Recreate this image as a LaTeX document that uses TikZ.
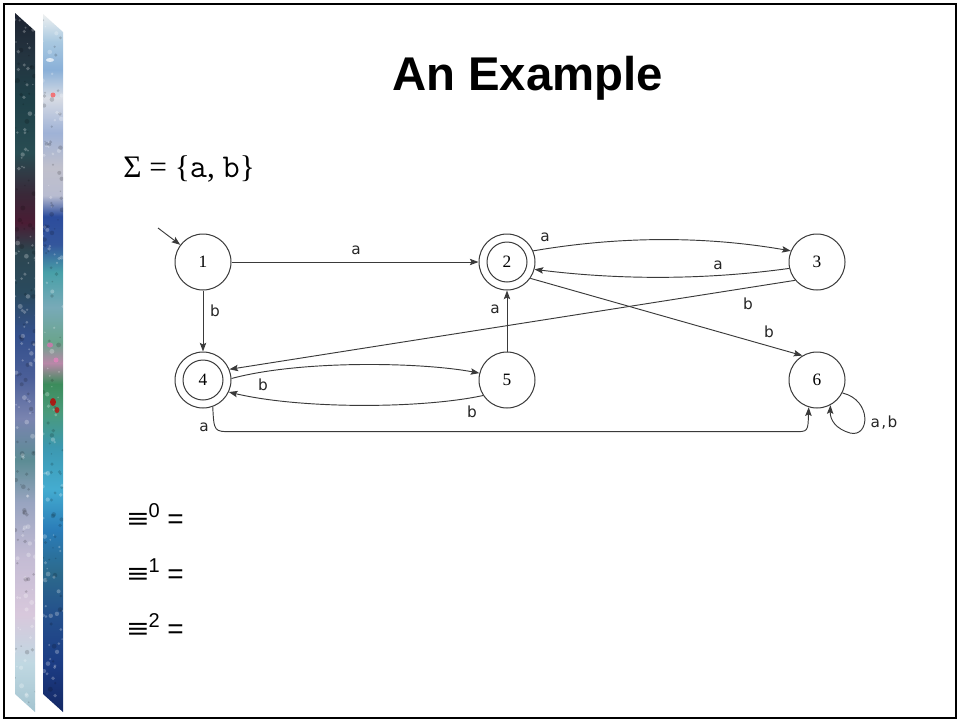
\documentclass[tikz,border=0pt]{standalone}
\usepackage{fontspec}
\usepackage{graphicx}
\usetikzlibrary{arrows.meta}
\setmainfont{Liberation Sans}
\newfontfamily\serifR{Liberation Serif}
\newfontfamily\lblfont{DejaVu Sans}

\definecolor{linegray}{HTML}{3A3A3A}
% colours of the two patterned side bands (top to bottom)
\definecolor{la}{HTML}{1C2230}\definecolor{lb}{HTML}{243440}\definecolor{lc}{HTML}{1F4048}
\definecolor{ld}{HTML}{284C52}\definecolor{le}{HTML}{3A2838}\definecolor{lf}{HTML}{4A1C34}
\definecolor{lg}{HTML}{2C4650}\definecolor{lh}{HTML}{2A4A5E}\definecolor{li}{HTML}{34508C}
\definecolor{lj}{HTML}{4A5E98}\definecolor{lk}{HTML}{7A84B0}\definecolor{ll}{HTML}{5C8C94}
\definecolor{lm}{HTML}{98A4C0}\definecolor{ln}{HTML}{C4BCD4}\definecolor{lo}{HTML}{D8C8DC}
\definecolor{lp}{HTML}{C0D8E2}\definecolor{lq}{HTML}{A4C4D0}
\definecolor{ra}{HTML}{EEF0F0}\definecolor{rb}{HTML}{A8C8E0}\definecolor{rc}{HTML}{8AB0D8}
\definecolor{rd}{HTML}{D8DCE4}\definecolor{re}{HTML}{9FB2D6}\definecolor{rf}{HTML}{C0C0CC}
\definecolor{rg}{HTML}{B8BCD0}\definecolor{rh}{HTML}{2C4C9C}\definecolor{ri}{HTML}{34569C}
\definecolor{rj}{HTML}{48A0A8}\definecolor{rk}{HTML}{78AAB8}\definecolor{rl}{HTML}{6AA48C}
\definecolor{rm}{HTML}{B888A8}\definecolor{rn}{HTML}{3C8C5C}\definecolor{ro}{HTML}{4A9A7A}
\definecolor{rp}{HTML}{3C98B0}\definecolor{rq}{HTML}{44ACD0}\definecolor{rr}{HTML}{2A7CB8}
\definecolor{rs}{HTML}{2C6A8C}\definecolor{rt}{HTML}{24508C}\definecolor{ru}{HTML}{1C3C84}
\definecolor{rv}{HTML}{142864}

\pgfdeclareverticalshading{leftband}{100bp}{%
  color(0bp)=(lq); color(25bp)=(lq); color(28.5bp)=(lp); color(32bp)=(lo);
  color(36bp)=(ln); color(40bp)=(lm); color(43bp)=(ll); color(46bp)=(lk);
  color(49bp)=(lj); color(52bp)=(li); color(55bp)=(lh); color(58bp)=(lg);
  color(60bp)=(lf); color(62bp)=(le); color(65bp)=(ld); color(69bp)=(lc);
  color(72bp)=(lb); color(75bp)=(la); color(100bp)=(la)}
\pgfdeclareverticalshading{rightband}{100bp}{%
  color(0bp)=(rv); color(25bp)=(rv); color(28.5bp)=(ru); color(32bp)=(rt);
  color(35bp)=(rs); color(38bp)=(rr); color(41bp)=(rq); color(44bp)=(rp);
  color(46.5bp)=(ro); color(48.5bp)=(rn); color(50bp)=(rm); color(51.5bp)=(rl);
  color(54bp)=(rk); color(56.5bp)=(rj); color(58.5bp)=(ri); color(60.5bp)=(rh);
  color(62bp)=(rg); color(64bp)=(rf); color(66.5bp)=(re); color(69bp)=(rd);
  color(71bp)=(rc); color(73bp)=(rb); color(75bp)=(ra); color(100bp)=(ra)}

\tikzset{
  state/.style={circle, draw=linegray, line width=0.75pt, minimum size=42pt,
    inner sep=0pt, font=\serifR\fontsize{13}{13}\selectfont},
  innerring/.style={circle, draw=linegray, line width=0.75pt, minimum size=30pt,
    inner sep=0pt},
  edge/.style={draw=linegray, line width=0.7pt,
    -{Stealth[length=6.5pt,width=4.8pt,inset=1.2pt]}},
  lbl/.style={font=\lblfont\fontsize{11.5}{11.5}\selectfont, inner sep=0pt, text=black!85},
  eqline/.style={font=\fontsize{21}{25}\selectfont, inner sep=0pt, anchor=base west},
}

\newcommand{\supnum}[1]{\raisebox{0.36em}{\fontsize{15}{15}\selectfont #1}}
\newcommand{\eqv}{\scalebox{1.3}[1]{≡}}

\begin{document}
\begin{tikzpicture}[x=0.75pt,y=-0.75pt]
\useasboundingbox (0,0) rectangle (959,721);
\fill[white] (0,0) rectangle (959,721);

% slide frame
\draw[line width=1.5pt, black] (4,4) rectangle (955.5,717.5);

% patterned side bands
\shade[shading=leftband] (15,13) -- (35,31) -- (35,712) -- (15,694) -- cycle;
\shade[shading=rightband] (43,14) -- (63,32) -- (63,712) -- (43,694) -- cycle;
\begin{scope}
  \clip (15,13) -- (35,31) -- (35,712) -- (15,694) -- cycle
        (43,14) -- (63,32) -- (63,712) -- (43,694) -- cycle;
  \pgfmathsetseed{11}
  \foreach \i in {1,...,420}{
    \pgfmathsetmacro{\yy}{13+rnd*700}
    \pgfmathsetmacro{\xx}{15+rnd*48}
    \pgfmathsetmacro{\rr}{0.7+rnd*1.8}
    \pgfmathsetmacro{\kind}{rnd}
    \ifdim\kind pt<0.5pt
      \fill[white, opacity=0.25] (\xx,\yy) circle[radius=\rr];
    \else
      \fill[black, opacity=0.16] (\xx,\yy) circle[radius=\rr];
    \fi
  }
  \fill[red!75!black, opacity=0.8] (53,402) ellipse[x radius=3, y radius=4];
  \fill[red!80!black, opacity=0.7] (57,410) ellipse[x radius=2.5, y radius=3];
  \fill[magenta!60!white, opacity=0.6] (50,345) ellipse[x radius=3, y radius=2.5];
  \fill[magenta!50!white, opacity=0.6] (56,360) ellipse[x radius=2.5, y radius=2.5];
  \fill[white, opacity=0.7] (50,60) ellipse[x radius=4, y radius=2];
  \fill[red!70!white, opacity=0.7] (53,95) circle[radius=2.5];
\end{scope}

% title and alphabet
\node[font=\fontsize{35.5}{40}\selectfont\bfseries, anchor=base, inner sep=0pt]
  (title) at (527.5,90) {An Example};
\node[font=\serifR\fontsize{23.5}{28}\selectfont, anchor=base west, inner sep=0pt]
  (alphabet) at (123,177) {Σ = \{{\ttfamily\fontsize{25}{28}\selectfont a}, {\ttfamily\fontsize{25}{28}\selectfont b}\}};

% states
\node[state] (n1) at (203,262) {1};
\node[state] (n2) at (507,262) {2};
\node[state] (n3) at (817,262) {3};
\node[state] (n4) at (203,380) {4};
\node[state] (n5) at (507,380) {5};
\node[state] (n6) at (817,380) {6};
\node[innerring] (n2in) at (n2) {};
\node[innerring] (n4in) at (n4) {};

% start arrow
\coordinate (start) at (158,228);
\draw[edge] (start) -- (n1);

% transitions
\draw[edge] (n1) -- (n2) node[lbl] at (356,250) {a};
\draw[edge] (n1) -- (n4) node[lbl] at (215,311) {b};
\draw[edge] (n2.23) .. controls (620,236) and (705,236) .. (n3.157)
  node[lbl] at (545,237) {a};
\draw[edge] (n3.-167) .. controls (705,280) and (620,280) .. (n2.-15)
  node[lbl] at (718,265) {a};
\draw[edge] (n3.220) -- (n4.22) node[lbl] at (748,304) {b};
\draw[edge] (n2.-35) -- (n6.121) node[lbl] at (769,332) {b};
\draw[edge] (n5) -- (n2) node[lbl] at (495,309) {a};
\draw[edge] (n4.3) .. controls (300,360) and (420,362) .. (n5.166)
  node[lbl] at (263,385) {b};
\draw[edge] (n5.213) .. controls (420,409) and (300,409) .. (n4.-25)
  node[lbl] at (472,412) {b};
\draw[edge] (n4.-70) .. controls (214,431.7) .. (232,431.7) -- (794,431.7)
  .. controls (808,431.7) .. (n6.-107) node[lbl] at (204,427) {a};
\draw[edge] (n6.-27) .. controls (872,400) and (870,438) .. (850,433)
  .. controls (836,429) and (830,420) .. (n6.-62)
  node[lbl] at (884,423) {a\kern1pt,\kern1pt b};

% equivalence relations
\node[eqline] (eq0) at (127,528) {\eqv\supnum{0} =};
\node[eqline] (eq1) at (127,583) {\eqv\supnum{1} =};
\node[eqline] (eq2) at (127,638) {\eqv\supnum{2} =};
\end{tikzpicture}
\end{document}
